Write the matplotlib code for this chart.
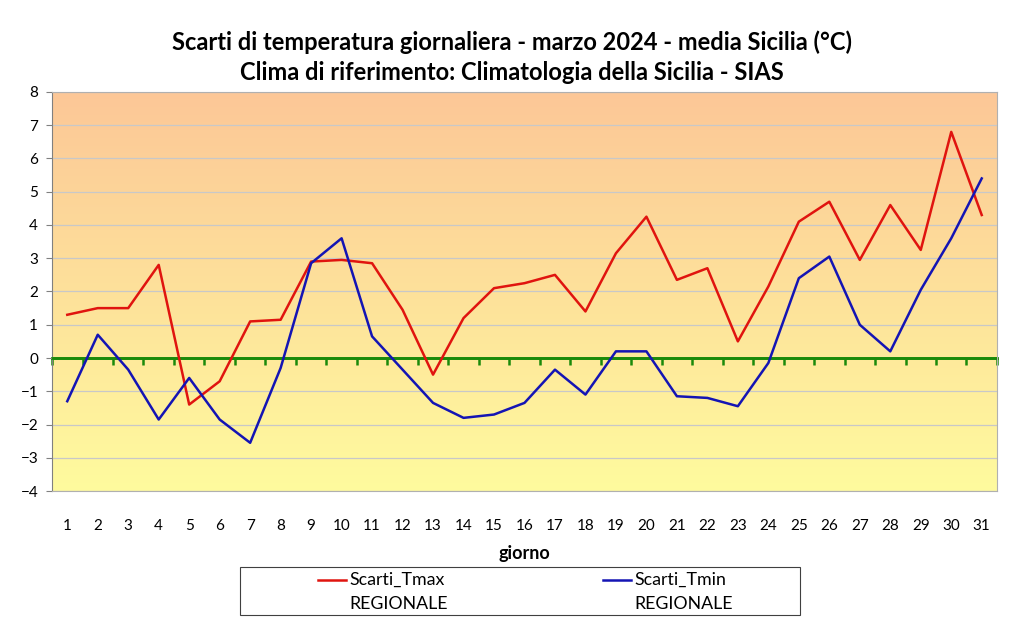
import numpy as np
import matplotlib.pyplot as plt
from matplotlib.colors import LinearSegmentedColormap
from matplotlib.lines import Line2D
from matplotlib.patches import Rectangle

plt.rcParams['font.family'] = ['Lato', 'DejaVu Sans']

# giorni di marzo 2024
giorni = list(range(1, 32))

# scarti dalla climatologia (°C)
scarti_tmax = [1.3, 1.5, 1.5, 2.8, -1.4, -0.7, 1.1, 1.15, 2.9, 2.95,
               2.85, 1.45, -0.5, 1.2, 2.1, 2.25, 2.5, 1.4, 3.15, 4.25,
               2.35, 2.7, 0.5, 2.15, 4.1, 4.7, 2.95, 4.6, 3.25, 6.8, 4.3]
scarti_tmin = [-1.3, 0.7, -0.35, -1.85, -0.6, -1.85, -2.55, -0.3, 2.85, 3.6,
               0.65, -0.35, -1.35, -1.8, -1.7, -1.35, -0.35, -1.1, 0.2, 0.2,
               -1.15, -1.2, -1.45, -0.15, 2.4, 3.05, 1.0, 0.2, 2.05, 3.6, 5.4]

y_ticks = list(range(-4, 9))

fig = plt.figure(figsize=(10.24, 6.33), dpi=100)
ax = fig.add_axes([0.0508, 0.2243, 0.9228, 0.6304])

ax.set_xlim(0.5, 31.5)
ax.set_ylim(-4, 8)

# sfondo sfumato arancio -> giallo
cmap = LinearSegmentedColormap.from_list('sfondo', ['#FFFB9E', '#FCC797'])
grad = np.linspace(0, 1, 256).reshape(-1, 1)
ax.imshow(grad, extent=[0.5, 31.5, -4, 8], origin='lower', aspect='auto',
          cmap=cmap, zorder=0)

for y in y_ticks:
    ax.axhline(y, color='#c8c8c8', lw=0.9, zorder=1)

ax.plot(giorni, scarti_tmax, color='#e0140f', lw=1.8, zorder=4)
ax.plot(giorni, scarti_tmin, color='#1414b4', lw=1.8, zorder=4)

# asse zero verde con tacche tra le categorie
sec = ax.secondary_xaxis(4 / 12)
sec.set_xticks(np.arange(0.5, 32, 1))
sec.set_xticklabels([])
sec.spines['bottom'].set_color('#1a8a0a')
sec.spines['bottom'].set_linewidth(2)
sec.tick_params(axis='x', colors='#1a8a0a', length=5, width=1.8, direction='out')
ax.axhline(0, color='#1a8a0a', lw=2, zorder=3)

ax.set_xticks(giorni)
ax.set_yticks(y_ticks)
ax.tick_params(axis='x', length=0, labelsize=11, pad=20)
ax.tick_params(axis='y', length=4, labelsize=11, color='#808080', pad=6)

for s in ax.spines.values():
    s.set_color('#b0b0b0')
ax.spines['left'].set_color('#808080')

ax.set_xlabel('giorno', fontsize=13, fontweight='bold', labelpad=9)

fig.text(0.5, 0.934, 'Scarti di temperatura giornaliera - marzo 2024 - media Sicilia (°C)',
         ha='center', va='center', fontsize=17, fontweight='bold')
fig.text(0.5, 0.885, 'Clima di riferimento: Climatologia della Sicilia - SIAS',
         ha='center', va='center', fontsize=17, fontweight='bold')

# legenda
fig.add_artist(Rectangle((240 / 1024, 1 - 615 / 633), 560 / 1024, 48 / 633,
                         transform=fig.transFigure, fill=False,
                         edgecolor='#404040', lw=0.8))
legenda = [('Scarti_Tmax', 'REGIONALE', '#e0140f', 318),
           ('Scarti_Tmin', 'REGIONALE', '#1414b4', 603)]
for nome, riga2, col, x0 in legenda:
    yl = 1 - 580 / 633
    fig.add_artist(Line2D([x0 / 1024, (x0 + 28) / 1024], [yl, yl],
                          transform=fig.transFigure, color=col, lw=1.8))
    fig.text((x0 + 31) / 1024, yl, nome, ha='left', va='center', fontsize=12.8)
    fig.text((x0 + 31) / 1024, 1 - 604 / 633, riga2, ha='left', va='center', fontsize=12.8)

fig.savefig('out.png', dpi=100)
